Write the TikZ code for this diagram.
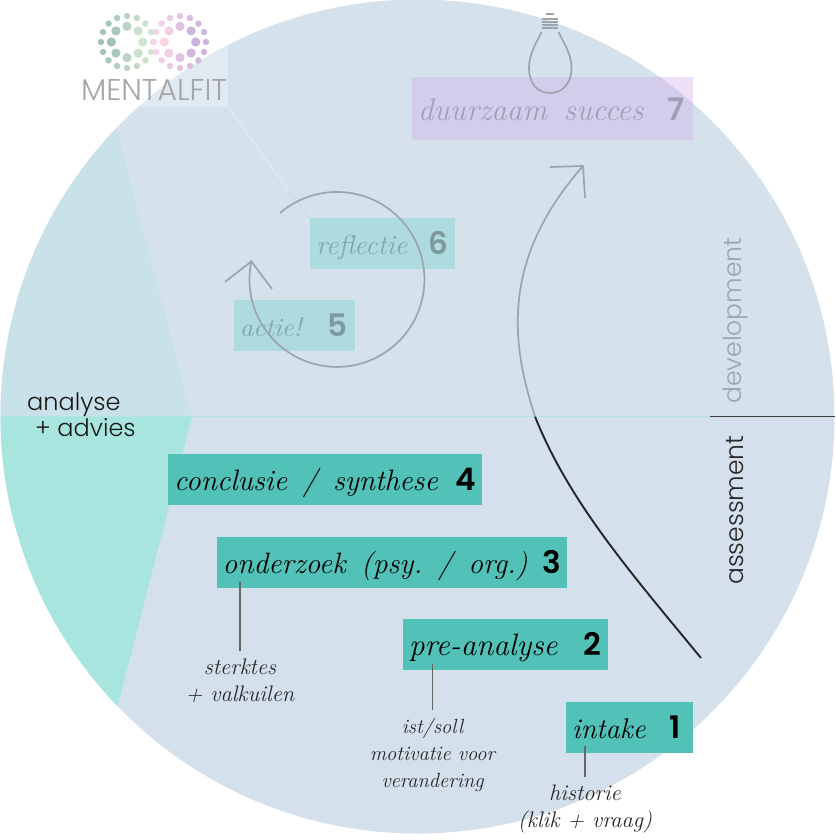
\documentclass[tikz,border=0pt]{standalone}
\usepackage{fontspec}
\usetikzlibrary{calc}
\newfontfamily\lightsans{Poppins Light}
\newfontfamily\boldsans{Poppins SemiBold}
\definecolor{discup}{HTML}{D6E2EB}
\definecolor{disclow}{HTML}{D4E0EC}
\definecolor{wedgeup}{HTML}{C9E2EA}
\definecolor{wedgelow}{HTML}{A8E5DF}
\definecolor{stepteal}{HTML}{52C1B7}
\definecolor{steppale}{HTML}{AEDBDF}
\definecolor{steppurple}{HTML}{CD9EE9}
\definecolor{midline}{HTML}{B5E5E3}
\definecolor{fadegrey}{HTML}{9AA5AE}
\definecolor{logogrey}{HTML}{A3A5A7}
\definecolor{fadeteal}{HTML}{83A5AA}
\definecolor{fadenumteal}{HTML}{7E9A9E}
\definecolor{fadepurple}{HTML}{A29EBA}
\definecolor{greendark}{HTML}{A3C2B7}
\definecolor{greenlight}{HTML}{CFE6CF}
\definecolor{pinklight}{HTML}{F8D4E6}
\definecolor{purpledark}{HTML}{CBB2DC}
\newcommand{\widewords}{\frenchspacing\spaceskip 0.53em\relax}
\tikzset{
  stepfont/.style={font=\fontsize{#1}{30}\selectfont\itshape},
  stepbox/.style={fill=stepteal, text=black, inner xsep=6, inner ysep=0, anchor=north west,
    minimum height=50.5, text height=25, text depth=2, stepfont=29.5, execute at begin node=\widewords},
  fadebox/.style={stepbox, fill=steppale, text=fadeteal},
  notelabel/.style={align=center, inner xsep=0, inner ysep=8, anchor=north, text=black!85,
    font=\fontsize{22.5}{27}\selectfont\itshape},
  notewire/.style={draw=black!60, line width=1.2},
  fadeline/.style={draw=fadegrey, line width=1.7},
  sidelabel/.style={rotate=90, inner sep=0, font=\fontsize{25}{25}\selectfont\lightsans},
  advieslabel/.style={inner sep=0, anchor=base west, text=black!90, font=\fontsize{24}{24}\selectfont\lightsans}
}
\newcommand{\stepnum}[2][0pt]{\hfill{\fontsize{31}{31}\selectfont\upshape\boldsans #2}\hspace*{#1}}
\begin{document}
\begin{tikzpicture}[x=1pt, y=1pt, yscale=-1]
    \useasboundingbox (0, 0) rectangle (835, 840);
    % disc with its two halves
    \path[fill=discup] (0.5, 416.5) arc[start angle=180, end angle=360, radius=417] -- cycle;
    \path[fill=disclow] (0.5, 416.5) arc[start angle=180, end angle=0, radius=417] -- cycle;
    \begin{scope}
      \clip (417.5, 416.5) circle[radius=417];
      \path[fill=wedgeup] (0, 416.5) -- (192, 416.5) -- (117, 130) -- (0, 130) -- cycle;
      \path[fill=wedgelow] (0, 416.5) -- (192, 416.5) -- (118, 705) -- (0, 705) -- cycle;
      \path[fill=white, fill opacity=0.3] (100, 45) rectangle (228, 107);
    \end{scope}
    % logo
    \foreach \a in {0, 22.5, ..., 359} {
      \pgfmathsetmacro{\mix}{50 + 50*cos(\a)}
      \path[fill=greenlight!\mix!greendark] (127, 42) ++(\a:26) circle[radius=3.2];
      \path[fill=purpledark!\mix!pinklight] (180, 42) ++(\a:26) circle[radius=3.2];
    }
    \foreach \a in {0, 45, ..., 359} {
      \pgfmathsetmacro{\mix}{50 + 50*cos(\a)}
      \path[fill=greenlight!\mix!greendark] (127, 42) ++(\a:15.7) circle[radius=4.6];
      \path[fill=purpledark!\mix!pinklight] (180, 42) ++(\a:15.7) circle[radius=4.6];
    }
    \node[inner sep=0, text=logogrey, font=\fontsize{30}{30}\selectfont\lightsans] (logotext) at (154, 90) {MENTALFIT};
    % middle line
    \coordinate (midleft) at (0, 416.5);
    \coordinate (midbreak) at (710, 416.5);
    \coordinate (midright) at (835, 416.5);
    \path[draw=midline, line width=1.2] (midleft) -- (midbreak);
    \path[draw=black!75, line width=1.2] (midbreak) -- (midright);
    % steps
    \node[stepbox, text width=302] (conclusie) at (168, 454) {conclusie / synthese\stepnum{4}};
    \node[stepbox, text width=338] (onderzoek) at (216.5, 537) {onderzoek (psy. / org.)\stepnum{3}};
    \node[stepbox, stepfont=31, text width=193] (preanalyse) at (403, 619) {pre-analyse\stepnum[1pt]{2}};
    \node[stepbox, stepfont=28.5, text width=115] (intake) at (566, 702) {intake\stepnum[6pt]{1}};
    \node[fadebox, stepfont=26.5, text width=109] (actie) at (234, 300) {actie!\stepnum[2pt]{\textcolor{fadenumteal}{5}}};
    \node[fadebox, stepfont=27.5, text width=133] (reflectie) at (310, 218) {reflectie\stepnum[1pt]{\textcolor{fadenumteal}{6}}};
    \node[stepbox, stepfont=31, fill=steppurple, fill opacity=0.32, text opacity=1, text=fadepurple, text width=269, minimum height=63] (succes) at (412, 77) {duurzaam succes\stepnum[3pt]{7}};
    % notes below the steps
    \node[notelabel] (sterktes) at (240, 651) {sterktes\\+ valkuilen};
    \node[notelabel, font=\fontsize{20.5}{27}\selectfont\itshape] (istsoll) at (432.5, 710) {ist/soll\\motivatie voor\\verandering};
    \node[notelabel] (historie) at (585, 777) {historie\\(klik + vraag)};
    \path[notewire] ([yshift=-6]onderzoek.south -| sterktes.north) -- (sterktes.north);
    \path[notewire] ([yshift=-6]preanalyse.south -| istsoll.north) -- (istsoll.north);
    \path[notewire] ([yshift=-7]intake.south -| historie.north) -- (historie.north);
    % link from the logo corner to step 6
    \coordinate (logocorner) at (228, 107);
    \coordinate (linkbend) at (289, 191);
    \path[draw=white!70!discup, thin] (logocorner) -- (linkbend);
    \path[draw=steppale, thin] (linkbend) -- (reflectie.north west);
    % growth curve
    \coordinate (curvestart) at (701, 658);
    \coordinate (curvemid) at (535, 416.5);
    \coordinate (curvetip) at (583, 166);
    \path[draw=black!85, line width=1.9] (curvestart) .. controls (631, 573) and (569, 502) .. (curvemid);
    \path[fadeline] (curvemid) .. controls (510, 340) and (502, 258) .. (curvetip);
    \path[fadeline] (550, 167) -- (curvetip) -- (585, 198);
    % loop around actie and reflectie
    \path[fadeline] (280, 213) arc[start angle=229.4, end angle=551.9, radius=87.5] coordinate (looptip);
    \path[fadeline] (225, 282) -- (looptip) -- (272, 289);
    % bulb
    \path[fadeline] (541.5, 32) .. controls (535, 45) and (529, 55) .. (529, 68)
      .. controls (529, 84) and (538, 93) .. (550, 93) .. controls (562, 93) and (571.5, 84) .. (571.5, 68)
      .. controls (571.5, 55) and (565, 45) .. (558.5, 32);
    \foreach \y in {19, 22, 25, 28} {
      \path[fadeline] (542, \y) -- (558, \y);
    }
    \path[fadeline] (546, 14) -- (554, 14);
    % texts on the side
    \node[sidelabel, text=fadegrey] (development) at (735, 320.5) {development};
    \node[sidelabel, text=black!85] (assessment) at (735, 510) {assessment};
    \node[advieslabel] (analyse) at (27, 410) {analyse};
    \node[advieslabel] (advies) at (35, 436) {+ advies};
\end{tikzpicture}
\end{document}
